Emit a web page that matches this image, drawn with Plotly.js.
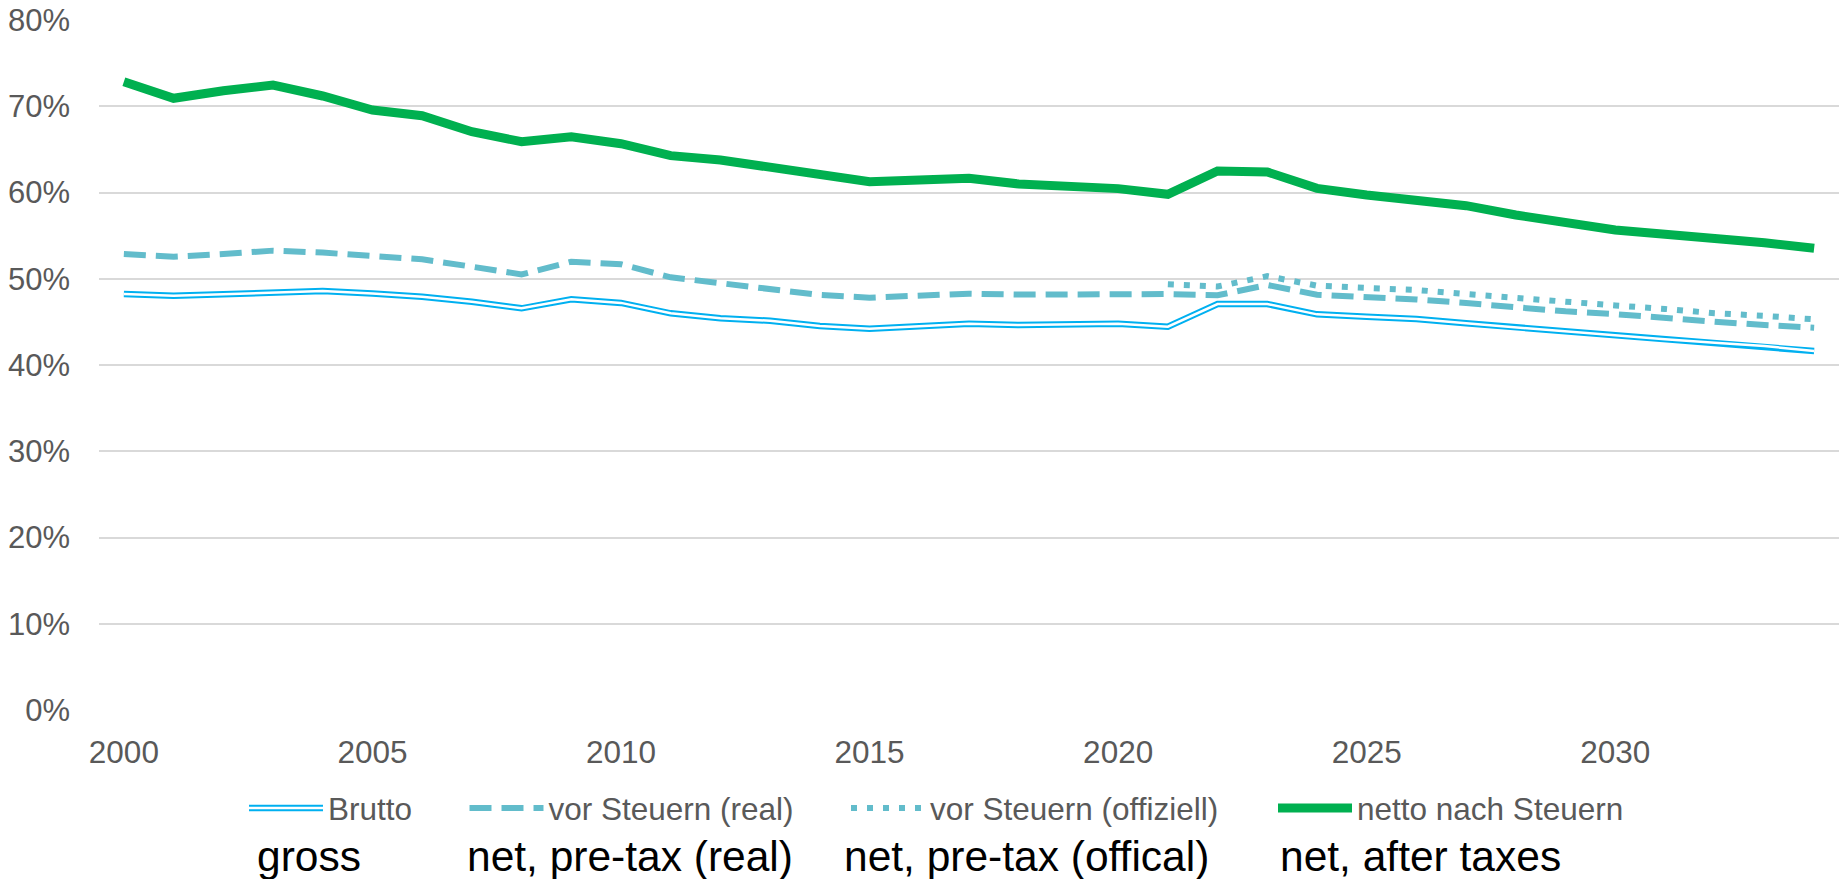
<!DOCTYPE html>
<html>
<head>
<meta charset="utf-8">
<script src="https://cdn.plot.ly/plotly-3.0.1.min.js"></script>
<style>
  html, body { margin: 0; padding: 0; background: #ffffff; }
  #chart { width: 1845px; height: 879px; }
</style>
</head>
<body>
<div id="chart"></div>
<script>
// ---- data ----
const years = [2000, 2001, 2002, 2003, 2004, 2005, 2006, 2007, 2008, 2009,
               2010, 2011, 2012, 2013, 2014, 2015, 2016, 2017, 2018, 2019,
               2020, 2021, 2022, 2023, 2024, 2025, 2026, 2027, 2028, 2029,
               2030, 2031, 2032, 2033, 2034];

const brutto = [48.23, 48.04, 48.20, 48.43, 48.58, 48.30, 47.92, 47.34, 46.57, 47.61,
                47.20, 45.99, 45.41, 45.14, 44.52, 44.21, 44.52, 44.79, 44.64, 44.71,
                44.79, 44.44, 47.07, 47.07, 45.87, 45.60, 45.33, 44.83, 44.37, 43.86,
                43.48, 42.98, 42.59, 42.20, 41.62];

const vorSteuernReal = [52.87, 52.56, 52.87, 53.26, 53.03, 52.56, 52.25, 51.40, 50.50, 51.98,
                        51.68, 50.17, 49.47, 48.89, 48.12, 47.81, 48.12, 48.27, 48.16, 48.20,
                        48.23, 48.23, 48.08, 49.28, 48.15, 47.92, 47.60, 47.18, 46.65, 46.22,
                        45.90, 45.41, 45.02, 44.64, 44.33];

const vorSteuernOffiziell = [null, null, null, null, null, null, null, null, null, null,
                             null, null, null, null, null, null, null, null, null, null,
                             null, 49.35, 49.10, 50.30, 49.20, 48.93, 48.70, 48.23, 47.73, 47.26,
                             46.90, 46.50, 46.00, 45.70, 45.30];

const nettoNachSteuern = [72.85, 70.92, 71.80, 72.46, 71.19, 69.57, 68.90, 67.05, 65.89, 66.47,
                          65.66, 64.27, 63.77, 62.88, 61.91, 61.25, 61.45, 61.64, 60.99, 60.68,
                          60.45, 59.79, 62.50, 62.38, 60.48, 59.71, 59.13, 58.47, 57.39, 56.54,
                          55.65, 55.15, 54.76, 54.18, 53.53];

const seriesNames = ['Brutto', 'vor Steuern (real)', 'vor Steuern (offiziell)', 'netto nach Steuern'];
const translations = ['gross', 'net, pre-tax (real)', 'net, pre-tax (offical)', 'net, after taxes'];
const xTickVals = [2000, 2005, 2010, 2015, 2020, 2025, 2030];
const yTickVals = [0, 10, 20, 30, 40, 50, 60, 70, 80];
const yTickLabels = ['0%', '10%', '20%', '30%', '40%', '50%', '60%', '70%', '80%'];

// ---- styling ----
const FONT = "Arial, 'Liberation Sans', sans-serif";
const GREY = '#595959';
const TEAL = '#62BCCB';
const BLUE = '#00B0F0';
const GREEN = '#00B050';

const traces = [
  { x: years, y: brutto, name: seriesNames[0], mode: 'lines', legend: 'legend',
    line: { color: BLUE, width: 6.5 }, hoverinfo: 'skip' },
  { x: years, y: brutto, name: ' ', mode: 'lines', legend: 'legend5',
    line: { color: '#ffffff', width: 2.5 }, hoverinfo: 'skip' },
  { x: years, y: vorSteuernReal, name: seriesNames[1], mode: 'lines', legend: 'legend2',
    line: { color: TEAL, width: 6, dash: '22px,10px' }, hoverinfo: 'skip' },
  { x: years, y: vorSteuernOffiziell, name: seriesNames[2], mode: 'lines', legend: 'legend3',
    line: { color: TEAL, width: 6, dash: '6px,10px' }, connectgaps: false, hoverinfo: 'skip' },
  { x: years, y: nettoNachSteuern, name: seriesNames[3], mode: 'lines', legend: 'legend4',
    line: { color: GREEN, width: 9 }, hoverinfo: 'skip' }
];

const W = 1845, H = 879;
const L = 99, R = 6, T = 20, B = 169;
const plotW = W - L - R, plotH = H - T - B;
const px2paperX = px => (px - L) / plotW;
const py2paperY = py => (H - B - py) / plotH;

function mkLegend(px) {
  return {
    orientation: 'h', xref: 'container', yref: 'container',
    x: px / W, y: (H - 808) / H, xanchor: 'left', yanchor: 'middle',
    bgcolor: 'rgba(0,0,0,0)', borderwidth: 0, itemwidth: 74,
    font: { family: FONT, size: 31.5, color: GREY },
    itemclick: false, itemdoubleclick: false
  };
}

const annXs = [254.5, 464.5, 841.7, 1278];
const annotations = translations.map((t, i) => ({
  text: t, xref: 'paper', yref: 'paper',
  x: px2paperX(annXs[i]), y: py2paperY(857),
  xanchor: 'left', yanchor: 'middle', showarrow: false,
  font: { family: FONT, size: 42.5, color: '#000000' }
}));

const layout = {
  width: W, height: H,
  margin: { l: L, r: R, t: T, b: B, autoexpand: false },
  paper_bgcolor: '#ffffff', plot_bgcolor: '#ffffff',
  showlegend: true,
  xaxis: {
    range: [1999.5, 2034.5], tickmode: 'array', tickvals: xTickVals,
    showgrid: false, zeroline: false, showline: false, ticks: '',
    ticklabelstandoff: 20,
    tickfont: { family: FONT, size: 31.5, color: GREY }, fixedrange: true
  },
  yaxis: {
    range: [0, 80], tickmode: 'array', tickvals: yTickVals, ticktext: yTickLabels,
    showgrid: true, gridcolor: '#d9d9d9', gridwidth: 1.5,
    zeroline: false, showline: false, ticks: '',
    ticklabelstandoff: 28,
    tickfont: { family: FONT, size: 31, color: GREY }, fixedrange: true
  },
  legend: mkLegend(244),
  legend2: mkLegend(464.5),
  legend3: mkLegend(846),
  legend4: mkLegend(1273),
  legend5: mkLegend(244),
  annotations: annotations
};

Plotly.newPlot('chart', traces, layout, { displayModeBar: false, staticPlot: false });
</script>
</body>
</html>
